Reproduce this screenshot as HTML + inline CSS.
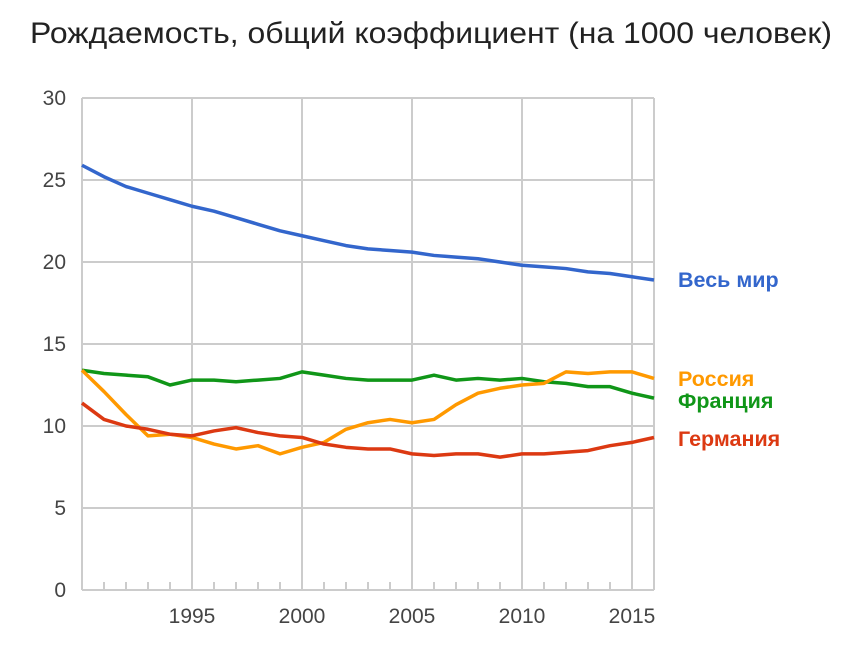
<!DOCTYPE html>
<html><head><meta charset="utf-8"><style>
body{margin:0;background:#fff;font-family:"Liberation Sans",Arial,sans-serif}
</style></head><body>
<svg width="843" height="640" xmlns="http://www.w3.org/2000/svg">
<text x="30" y="43" font-size="30" textLength="802" lengthAdjust="spacingAndGlyphs" fill="#222">Рождаемость, общий коэффициент (на 1000 человек)</text>
<g id="grid"></g><g id="axes"></g><g id="series"></g><g id="labels"></g>
</svg>
<script>
const years=[1990,1991,1992,1993,1994,1995,1996,1997,1998,1999,2000,2001,2002,2003,2004,2005,2006,2007,2008,2009,2010,2011,2012,2013,2014,2015,2016];
const world=[25.9,25.2,24.6,24.2,23.8,23.4,23.1,22.7,22.3,21.9,21.6,21.3,21.0,20.8,20.7,20.6,20.4,20.3,20.2,20.0,19.8,19.7,19.6,19.4,19.3,19.1,18.9];
const france=[13.4,13.2,13.1,13.0,12.5,12.8,12.8,12.7,12.8,12.9,13.3,13.1,12.9,12.8,12.8,12.8,13.1,12.8,12.9,12.8,12.9,12.7,12.6,12.4,12.4,12.0,11.7];
const russia=[13.4,12.1,10.7,9.4,9.5,9.3,8.9,8.6,8.8,8.3,8.7,9.0,9.8,10.2,10.4,10.2,10.4,11.3,12.0,12.3,12.5,12.6,13.3,13.2,13.3,13.3,12.9];
const germany=[11.4,10.4,10.0,9.8,9.5,9.4,9.7,9.9,9.6,9.4,9.3,8.9,8.7,8.6,8.6,8.3,8.2,8.3,8.3,8.1,8.3,8.3,8.4,8.5,8.8,9.0,9.3];
const yTicks=[0,5,10,15,20,25,30];
const xTicks=[1995,2000,2005,2010,2015];
const seriesNames=["Весь мир","Россия","Франция","Германия"];
const NS="http://www.w3.org/2000/svg";
const x=v=>82+(v-1990)*22;
const y=v=>590-v*16.4;
function mk(tag,attrs,parent,text){const e=document.createElementNS(NS,tag);for(const k in attrs)e.setAttribute(k,attrs[k]);if(text!==undefined)e.textContent=text;document.getElementById(parent).appendChild(e);return e;}
yTicks.forEach(t=>{
  const l=mk('line',{x1:82,x2:654,y1:y(t),y2:y(t),stroke:'#ccc','stroke-width':2},'grid');
  
  
  const tx=mk('text',{x:66,y:y(t)+7,'font-size':21,fill:'#444','text-anchor':'end'},'axes',String(t));
  
  
});
years.forEach(yr=>{
  const major=xTicks.includes(yr)||yr===1990||yr===2016;
  const l=mk('line',{x1:x(yr),x2:x(yr),y1:major?y(30):582,y2:590,stroke:'#ccc','stroke-width':2},'grid');
  
  
});
xTicks.forEach(t=>{
  const tx=mk('text',{x:x(t),y:623,'font-size':21,fill:'#444','text-anchor':'middle'},'axes',String(t));
  
  
});
const defs=[[world,'#3366cc','world-line'],[france,'#109618','france-line'],[russia,'#ff9900','russia-line'],[germany,'#dc3912','germany-line']];
defs.forEach(([d,c,n])=>{
  const p=mk('polyline',{points:d.map((v,i)=>x(years[i])+','+y(v)).join(' '),fill:'none',stroke:c,'stroke-width':3.5,'stroke-linejoin':'round'},'series');
  
  
});
const labs=[[seriesNames[0],'#3366cc',287],[seriesNames[1],'#ff9900',386],[seriesNames[2],'#109618',408],[seriesNames[3],'#dc3912',446]];
labs.forEach(([t,c,yy])=>{
  const tx=mk('text',{x:678,y:yy,'font-size':21.5,'font-weight':'bold',fill:c},'labels',t);
  
  
});
</script>
</body></html>
